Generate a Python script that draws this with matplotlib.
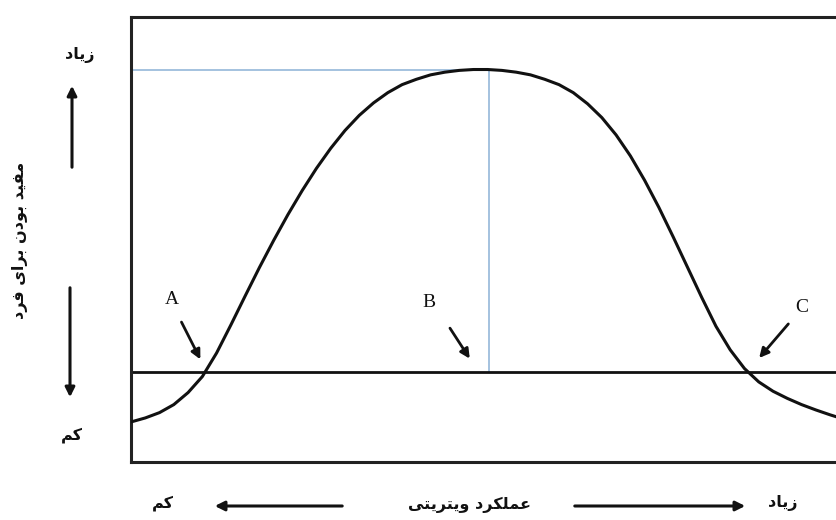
import matplotlib
matplotlib.use("Agg")
import matplotlib.pyplot as plt

plt.rcParams['font.family'] = ['DejaVu Sans', 'Noto Sans']

# ---- data (axes units 0..100) ----
curve_x = [0, 2, 4, 6, 8, 10, 12, 14, 16, 18, 20, 22, 24, 26, 28, 30, 32, 34, 36, 38,
           40, 42, 44, 46, 48, 50, 52, 54, 56, 58, 60, 62, 64, 66, 68, 70, 72, 74, 76,
           78, 80, 82, 84, 86, 88, 90, 92, 94, 96, 98, 100]
curve_y = [9.0, 9.9, 11.1, 12.9, 15.6, 19.2, 24.5, 30.8, 37.3, 43.7, 49.8, 55.6, 61.0,
           66.0, 70.5, 74.5, 77.9, 80.7, 83.0, 84.8, 86.0, 87.0, 87.6, 88.0, 88.2, 88.2,
           88.0, 87.6, 87.0, 86.0, 84.8, 83.0, 80.5, 77.4, 73.5, 68.8, 63.3, 57.2, 50.6,
           43.8, 37.0, 30.5, 25.2, 21.0, 18.0, 15.9, 14.3, 12.9, 11.7, 10.6, 9.6]
baseline_y = 20.2
peak_x = 50.2
peak_y = 88.1
point_labels = ['A', 'B', 'C']
label_xy = [(5.8, 36.5), (41.7, 35.8), (94.0, 34.8)]
arrow_tail = [(6.9, 32.0), (44.5, 30.6), (92.4, 31.5)]
arrow_head = [(9.9, 22.5), (47.7, 22.7), (87.8, 22.9)]

y_label = "مفید بودن برای فرد"
x_label = "عملکرد ویتریتی"
high_txt = "زیاد"
low_txt = "کم"

# ---- minimal Arabic/Persian shaping (presentation forms) ----
FORMS = {
    'ا': (0xFE8D, 0xFE8E), 'د': (0xFEA9, 0xFEAA), 'ذ': (0xFEAB, 0xFEAC),
    'ر': (0xFEAD, 0xFEAE), 'ز': (0xFEAF, 0xFEB0), 'و': (0xFEED, 0xFEEE),
    'ب': (0xFE8F, 0xFE90, 0xFE91, 0xFE92), 'ت': (0xFE95, 0xFE96, 0xFE97, 0xFE98),
    'ع': (0xFEC9, 0xFECA, 0xFECB, 0xFECC), 'ف': (0xFED1, 0xFED2, 0xFED3, 0xFED4),
    'ل': (0xFEDD, 0xFEDE, 0xFEDF, 0xFEE0), 'م': (0xFEE1, 0xFEE2, 0xFEE3, 0xFEE4),
    'ن': (0xFEE5, 0xFEE6, 0xFEE7, 0xFEE8), 'ی': (0xFBFC, 0xFBFD, 0xFBFE, 0xFBFF),
    'ک': (0xFB8E, 0xFB8F, 0xFB90, 0xFB91),
}


def shape(s):
    out = []
    n = len(s)
    for i, ch in enumerate(s):
        f = FORMS.get(ch)
        if f is None:
            out.append(ch)
            continue
        prev = s[i - 1] if i > 0 else None
        nxt = s[i + 1] if i < n - 1 else None
        join_prev = prev in FORMS and len(FORMS[prev]) == 4
        join_next = len(f) == 4 and nxt in FORMS
        if join_prev and join_next:
            out.append(chr(f[3]))
        elif join_prev:
            out.append(chr(f[1]))
        elif join_next:
            out.append(chr(f[2]))
        else:
            out.append(chr(f[0]))
    return ''.join(out)[::-1]


W, H = 836, 520
fig = plt.figure(figsize=(W / 100, H / 100), dpi=100)
ax = fig.add_axes([131 / W, (H - 462) / H, (W - 131) / W + 0.01, (462 - 17) / H])
ax.set_xlim(0, 100)
ax.set_ylim(0, 100)
ax.set_xticks([])
ax.set_yticks([])
for side in ['left', 'top', 'bottom']:
    ax.spines[side].set_linewidth(2.2)
    ax.spines[side].set_color('#222222')
ax.spines['right'].set_visible(False)

# blue guide lines
ax.plot([0, peak_x], [peak_y, peak_y], color='#9dbddc', lw=1.3, zorder=1)
ax.plot([peak_x, peak_x], [peak_y, baseline_y], color='#9dbddc', lw=1.3, zorder=1)
# baseline
ax.axhline(baseline_y, color='#111111', lw=2.0, zorder=2)
# curve
ax.plot(curve_x, curve_y, color='#111111', lw=2.2, zorder=3,
        solid_capstyle='round', solid_joinstyle='round')

for lab, lxy, t, h in zip(point_labels, label_xy, arrow_tail, arrow_head):
    ax.text(lxy[0], lxy[1], lab, fontsize=14, family='Liberation Serif', ha='center',
            va='center', color='#111111')
    ax.annotate('', xy=h, xytext=t,
                arrowprops=dict(arrowstyle='-|>', color='#111111', lw=2.0,
                                mutation_scale=14))

def fx(px):
    return px / W

def fy(py):
    return 1 - py / H

tk = dict(fontsize=11.5, fontweight='bold', color='#111111', ha='center', va='center')
fig.text(fx(80), fy(55), shape(high_txt), **tk)
fig.text(fx(72), fy(435), shape(low_txt), **tk)
fig.text(fx(20), fy(240), shape(y_label), rotation=90, **tk)
fig.text(fx(163), fy(503), shape(low_txt), **tk)
fig.text(fx(470), fy(505), shape(x_label), **tk)
fig.text(fx(783), fy(503), shape(high_txt), **tk)

aprops = dict(arrowstyle='-|>', color='#111111', lw=2.2, mutation_scale=14)
fig_ann = [((fx(72), fy(83)), (fx(72), fy(170))),
           ((fx(70), fy(400)), (fx(70), fy(285))),
           ((fx(212), fy(506)), (fx(345), fy(506))),
           ((fx(748), fy(506)), (fx(572), fy(506)))]
for head, tail in fig_ann:
    fig.add_artist(matplotlib.patches.FancyArrowPatch(tail, head, transform=fig.transFigure,
                                                      **aprops))

fig.savefig('out.png', dpi=100)
